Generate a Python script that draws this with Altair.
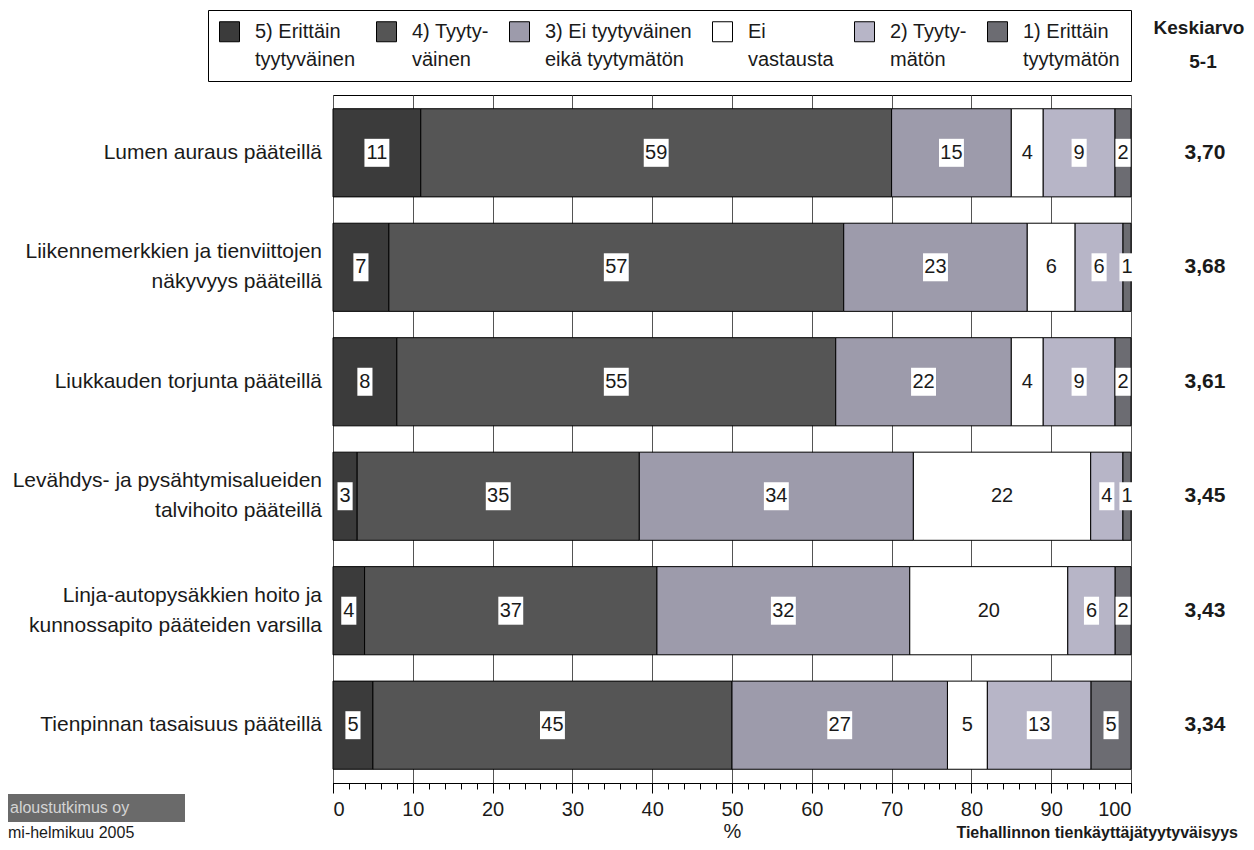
import altair as alt
import pandas as pd

FONT = "Liberation Sans"

items = [
    "Lumen auraus pääteillä",
    "Liikennemerkkien ja tienviittojen|näkyvyys pääteillä",
    "Liukkauden torjunta pääteillä",
    "Levähdys- ja pysähtymisalueiden|talvihoito pääteillä",
    "Linja-autopysäkkien hoito ja|kunnossapito pääteiden varsilla",
    "Tienpinnan tasaisuus pääteillä",
]
categories = [
    "5) Erittäin|tyytyväinen",
    "4) Tyyty-|väinen",
    "3) Ei tyytyväinen|eikä tyytymätön",
    "Ei|vastausta",
    "2) Tyyty-|mätön",
    "1) Erittäin|tyytymätön",
]
v5 = [11, 7, 8, 3, 4, 5]
v4 = [59, 57, 55, 35, 37, 45]
v3 = [15, 23, 22, 34, 32, 27]
v_ei = [4, 6, 4, 22, 20, 5]
v2 = [9, 6, 9, 4, 6, 13]
v1 = [2, 1, 2, 1, 2, 5]
means = ["3,70", "3,68", "3,61", "3,45", "3,43", "3,34"]
colors = ["#3b3b3b", "#555555", "#9d9bab", "#ffffff", "#b7b5c7", "#6c6c72"]
x_major = [i / 10 for i in range(11)]
x_minor = [i / 50 for i in range(51)]

rows = []
for s, (cat, vals) in enumerate(zip(categories, [v5, v4, v3, v_ei, v2, v1])):
    for item, v in zip(items, vals):
        rows.append({"item": item, "cat": cat, "ord": s, "value": v})
df = pd.DataFrame(rows)
mean_df = pd.DataFrame({"item": items, "mean": means})

TXT = "#1a1a1a"
xscale = alt.Scale(domain=[0, 1], nice=False)
yscale = alt.Scale(paddingInner=0.23, paddingOuter=0.12)
Y = alt.Y("item:N", sort=items, scale=yscale, axis=None, title=None)

base = alt.Chart(df).transform_stack(
    stack="value", groupby=["item"],
    sort=[alt.SortField("ord", order="ascending")],
    as_=["x0", "x1"], offset="normalize",
).transform_calculate(mid="(datum.x0 + datum.x1) / 2")

bars = base.mark_bar(stroke="black", strokeWidth=1).encode(
    y=Y,
    x=alt.X("x0:Q", scale=xscale, title=None,
            axis=alt.Axis(values=x_minor, orient="bottom", labels=False, grid=False,
                          tickSize=6, tickColor="black", domainColor="black", title=None)),
    x2="x1:Q",
    color=alt.Color("cat:N", scale=alt.Scale(domain=categories, range=colors),
                    legend=alt.Legend(orient="none", legendX=-125, legendY=-85,
                                      direction="horizontal", columns=6, title=None,
                                      symbolType="square", symbolSize=400,
                                      symbolStrokeColor="black", symbolStrokeWidth=1,
                                      symbolOpacity=1,
                                      labelFontSize=20, labelFont=FONT, labelColor=TXT,
                                      labelExpr="split(datum.label, '|')", labelLimit=300,
                                      labelOffset=15, columnPadding=18, padding=11,
                                      strokeColor="black", fillColor="white")),
)

path_wide = "M-0.89,-1H0.89V1H-0.89Z"
path_narrow = "M-0.54,-1H0.54V1H-0.54Z"
boxes = base.mark_point(filled=True, color="white", opacity=1, size=784, strokeWidth=0).encode(
    y=Y,
    x=alt.X("mid:Q", scale=xscale, axis=None),
    shape=alt.condition("datum.value >= 10", alt.value(path_wide), alt.value(path_narrow)),
)
labels = base.mark_text(fontSize=20, font=FONT, color=TXT).encode(
    y=Y,
    x=alt.X("mid:Q", scale=xscale, title="%",
            axis=alt.Axis(values=x_major, orient="bottom",
                          labelExpr="format(datum.value*100, 'd')",
                          labelOverlap=False, labelFontSize=20, labelFont=FONT,
                          labelColor=TXT, labelPadding=6, tickSize=10,
                          tickColor="black", domainColor="black",
                          grid=True, gridColor="#555555", gridWidth=1,
                          titleFontSize=20, titleFontWeight="normal", titleFont=FONT,
                          titleColor=TXT, titlePadding=2)),
    text=alt.Text("value:Q"),
)

cat_base = alt.Chart(mean_df)
cat_single = cat_base.transform_filter("indexof(datum.item, '|') < 0").mark_text(
    fontSize=21, font=FONT, color=TXT, align="right", baseline="middle").encode(
    y=Y, x=alt.value(-11), text="item:N")
cat_double = cat_base.transform_filter("indexof(datum.item, '|') >= 0").mark_text(
    fontSize=21, font=FONT, color=TXT, align="right", baseline="middle", lineBreak="|",
    lineHeight=30, dy=-15).encode(
    y=Y, x=alt.value(-11), text="item:N")

mean_text = alt.Chart(mean_df).mark_text(fontSize=21, font=FONT, fontWeight="bold",
                                         color=TXT).encode(
    y=Y,
    x=alt.value(872),
    text="mean:N",
)

one = pd.DataFrame({"a": [0]})
hdr1 = alt.Chart(one).mark_text(fontSize=19, font=FONT, fontWeight="bold", color=TXT,
                                text="Keskiarvo").encode(x=alt.value(866), y=alt.value(-67))
hdr2 = alt.Chart(one).mark_text(fontSize=19, font=FONT, fontWeight="bold", color=TXT,
                                text="5-1").encode(x=alt.value(870), y=alt.value(-33))
source = alt.Chart(one).mark_text(fontSize=16, font=FONT, fontWeight="bold", color=TXT,
                                  align="right", text="Tiehallinnon tienkäyttäjätyytyväisyys"
                                  ).encode(x=alt.value(905), y=alt.value(738))
banner = alt.Chart(one).mark_rect(color="#6a6a6a").encode(
    x=alt.value(-325), x2=alt.value(-148), y=alt.value(699), y2=alt.value(727))
banner_txt = alt.Chart(one).mark_text(fontSize=16, font=FONT, color="#d4d4d4", align="left",
                                      text="aloustutkimus oy").encode(
    x=alt.value(-323), y=alt.value(713))
date_txt = alt.Chart(one).mark_text(fontSize=16, font=FONT, color=TXT, align="left",
                                    text="mi-helmikuu 2005").encode(
    x=alt.value(-325), y=alt.value(738))

chart = alt.layer(bars, boxes, labels, cat_single, cat_double, mean_text, hdr1, hdr2, source,
                  banner, banner_txt, date_txt).resolve_axis(x="independent").properties(
    width=798, height=688,
    autosize=alt.AutoSizeParams(type="none"),
    padding={"left": 325, "top": 87, "right": 115, "bottom": 59},
).configure(
    style={"guide-label": {"lineHeight": 28}},
).configure_view(stroke="black", strokeWidth=1, fill="white")

chart.save("out.html", embed_options={"renderer": "svg", "actions": False})
